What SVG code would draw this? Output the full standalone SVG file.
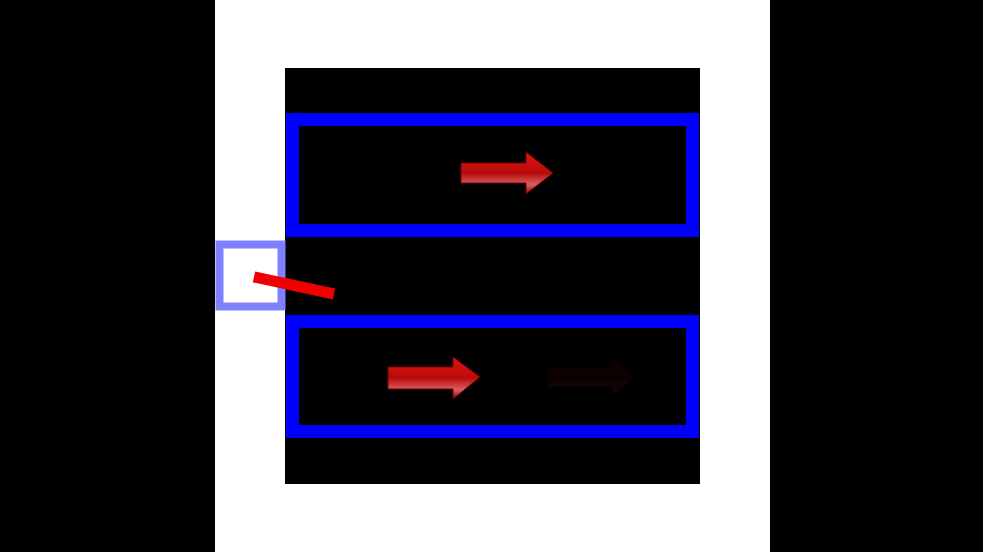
<svg xmlns="http://www.w3.org/2000/svg" width="983" height="552" viewBox="0 0 983 552">
<style>
.lane{fill:none;stroke:#0000ff;stroke-width:13}
.arrow{fill:url(#ag);stroke:#7a0000;stroke-width:1}
</style>
<defs>
<linearGradient id="ag" x1="0" y1="0" x2="0" y2="1">
<stop offset="0" stop-color="#e01515"/>
<stop offset="0.5" stop-color="#b80a0a"/>
<stop offset="0.78" stop-color="#d86060"/>
<stop offset="1" stop-color="#900000"/>
</linearGradient>
</defs>
<rect width="983" height="552" fill="#000"/>
<rect x="215" y="0" width="555" height="552" fill="#fff"/>
<rect x="285" y="68" width="415" height="416" fill="#000"/>
<g id="lane1"><rect class="lane" x="292.5" y="119.5" width="400" height="111"/></g>
<g id="lane2"><rect class="lane" x="292.5" y="321.5" width="400" height="110"/></g>
<g id="port"><rect x="219.5" y="244.5" width="62" height="62" fill="#fff" stroke="#8080ff" stroke-width="8"/></g>
<g id="connectors">
<line x1="254" y1="277" x2="334" y2="294" stroke="#ee0000" stroke-width="11"/>
<polygon class="arrow" points="461,163 526,163 526,152 553,173 526,194 526,183 461,183"/>
<polygon class="arrow" points="388,367 453,367 453,357 480,377 453,399 453,389 388,389"/>
<polygon class="arrow" opacity="0.07" points="547,368 612,368 612,358 634,377 612,397 612,387 547,387"/>
</g>
</svg>
